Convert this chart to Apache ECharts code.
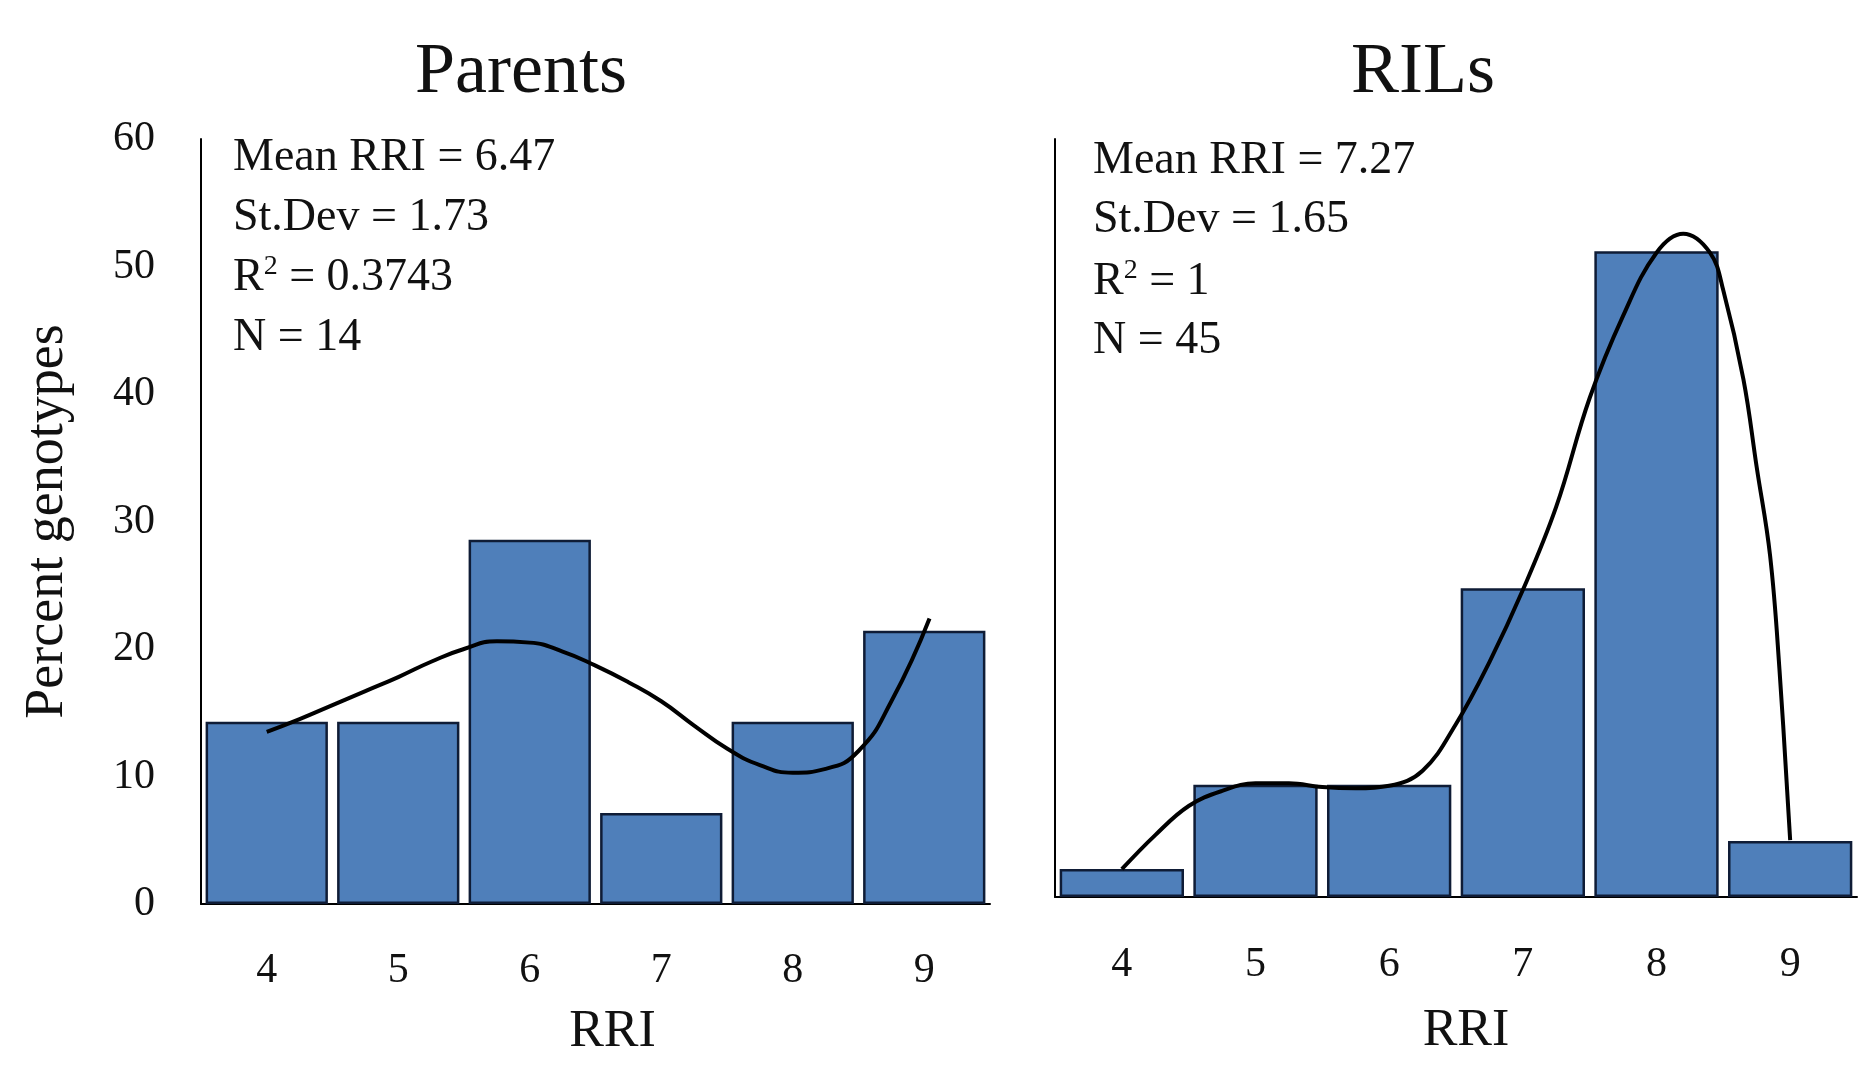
<!DOCTYPE html>
<html><head><meta charset="utf-8">
<script src="https://cdn.jsdelivr.net/npm/echarts@6/dist/echarts.min.js"></script>
<style>html,body{margin:0;padding:0;background:#fff}#c{width:1873px;height:1065px}</style>
</head><body><div id="c"></div>
<script>
const categories = ['4','5','6','7','8','9'];
const parentsPct = [14.29, 14.29, 28.57, 7.14, 14.29, 21.43];
const rilsPct = [2.22, 8.89, 8.89, 24.44, 51.11, 4.44];
const parentsCurve = [[4.0,13.5],[4.25,14.5],[4.5,15.6],[4.75,16.7],[5.0,17.8],[5.25,19.0],[5.5,20.0],[5.75,20.6],[6.0,20.5],[6.25,19.8],[6.5,18.7],[6.75,17.4],[7.0,15.9],[7.25,14.0],[7.5,12.2],[7.75,10.9],[8.0,10.3],[8.25,10.6],[8.5,12.0],[8.75,15.9],[9.04,22.4]];
const rilsCurve = [[4.0,2.2],[4.25,4.9],[4.5,7.2],[4.75,8.4],[5.0,9.0],[5.25,9.0],[5.5,8.7],[5.75,8.6],[6.0,8.8],[6.25,10.0],[6.5,13.7],[6.75,18.6],[7.0,24.3],[7.25,30.9],[7.5,39.5],[7.75,46.0],[8.0,51.0],[8.2,52.5],[8.4,51.0],[8.5,48.0],[8.65,41.0],[8.75,34.0],[8.85,27.0],[8.92,18.0],[9.0,4.5]];
const parentsStats = ['Mean RRI = 6.47', 'St.Dev = 1.73', 'R{sup|2} = 0.3743', 'N = 14'];
const rilsStats = ['Mean RRI = 7.27', 'St.Dev = 1.65', 'R{sup|2} = 1', 'N = 45'];
const titles = ['Parents', 'RILs'];

const FONT = '"Liberation Serif", "Times New Roman", serif';
const TXT = '#111';
const chart = echarts.init(document.getElementById('c'), null, {renderer: 'canvas'});

function statTexts(lines, x, ys) {
  return lines.map((t, i) => ({
    type: 'text', x: x, y: ys[i],
    style: {
      text: t, fill: TXT, font: '46px ' + FONT, align: 'left', verticalAlign: 'middle',
      rich: { sup: { fontSize: 28, fontFamily: FONT, fill: TXT, padding: [0, 0, 22, 0] } }
    }
  }));
}
const catAxis = (gi, shift, margin, gap) => ({
  type: 'category', gridIndex: gi, data: categories,
  axisLine: {show: true, lineStyle: {color: '#000', width: 2}},
  axisTick: {show: false},
  axisLabel: {fontSize: 42, fontFamily: FONT, color: TXT, margin: margin},
  name: 'RRI', nameLocation: 'middle', nameGap: gap,
  nameTextStyle: {fontSize: 52, fontFamily: FONT, color: TXT, padding: [0, 0, 0, shift]}
});
const valX = (gi) => ({type: 'value', gridIndex: gi, min: 3.5, max: 9.5, show: false});
const barStyle = {color: '#4F7FBA', borderColor: '#0f1c36', borderWidth: 2.5};

chart.setOption({
  backgroundColor: '#fff',
  animation: false,
  grid: [
    {left: 201, top: 139, width: 789, height: 765},
    {left: 1055, top: 139, width: 802, height: 758}
  ],
  xAxis: [catAxis(0, 34, 46, 102), catAxis(1, 20, 47, 108), valX(0), valX(1)],
  yAxis: [
    {type: 'value', gridIndex: 0, min: 0, max: 60, interval: 10,
     axisLine: {show: true, lineStyle: {color: '#000', width: 2}}, axisTick: {show: false}, splitLine: {show: false},
     axisLabel: {fontSize: 42, fontFamily: FONT, color: TXT, margin: 46},
     name: 'Percent genotypes', nameLocation: 'middle', nameGap: 126,
     nameTextStyle: {fontSize: 54, fontFamily: FONT, color: TXT}},
    {type: 'value', gridIndex: 1, min: 0, max: 60, interval: 10,
     axisLine: {show: true, lineStyle: {color: '#000', width: 2}}, axisTick: {show: false}, splitLine: {show: false},
     axisLabel: {show: false}}
  ],
  series: [
    {type: 'bar', xAxisIndex: 0, yAxisIndex: 0, data: parentsPct, barCategoryGap: '7%', itemStyle: barStyle},
    {type: 'bar', xAxisIndex: 1, yAxisIndex: 1, data: rilsPct, barCategoryGap: '7%', itemStyle: barStyle},
    {type: 'line', xAxisIndex: 2, yAxisIndex: 0, data: parentsCurve, smooth: 0.5, showSymbol: false,
     lineStyle: {color: '#000', width: 4}, z: 5},
    {type: 'line', xAxisIndex: 3, yAxisIndex: 1, data: rilsCurve, smooth: 0.4, showSymbol: false,
     lineStyle: {color: '#000', width: 4}, z: 5}
  ],
  graphic: [
    {type: 'text', x: 521, y: 73, style: {text: titles[0], fill: TXT, font: '72px ' + FONT, align: 'center', verticalAlign: 'middle'}},
    {type: 'text', x: 1423, y: 73, style: {text: titles[1], fill: TXT, font: '72px ' + FONT, align: 'center', verticalAlign: 'middle'}},
    ...statTexts(parentsStats, 233, [158, 218, 278, 338]),
    ...statTexts(rilsStats, 1093, [161, 220, 282, 341])
  ]
});
</script></body></html>
